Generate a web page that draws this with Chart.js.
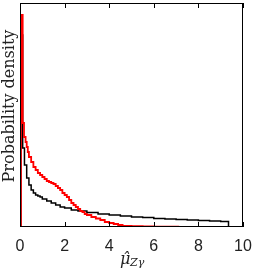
<!DOCTYPE html>
<html>
<head>
<meta charset="utf-8">
<script src="https://cdn.jsdelivr.net/npm/chart.js@4/dist/chart.umd.min.js"></script>
<style>
  html, body { margin: 0; padding: 0; background: #fff; }
  #wrap { width: 256px; height: 268px; }
</style>
</head>
<body>
<div id="wrap"><canvas id="chart" width="256" height="268"></canvas></div>
<script>
// histogram left edges and heights (arbitrary density units)
const blackEdges = [0.04, 0.12, 0.2, 0.3, 0.4, 0.5, 0.6, 0.7, 0.8, 0.9, 1.0, 1.2, 1.4, 1.6, 1.8, 2.0, 2.3, 2.6, 3.0, 3.5, 4.0, 4.5, 5.0, 5.5, 6.0, 6.5, 7.0, 7.5, 8.0, 8.5, 9.0];
const blackHeights = [192, 79, 62, 49, 42, 37, 34, 32, 31, 30, 28, 26, 24, 22, 20, 19, 17, 16, 14.5, 13, 12, 11, 10, 9.5, 8.5, 8, 7.5, 7, 6.5, 6, 5.5];
const blackEnd = 9.35;

const redEdges = [0.04, 0.12, 0.18, 0.25, 0.3, 0.35, 0.4, 0.5, 0.6, 0.7, 0.8, 0.9, 1.0, 1.1, 1.2, 1.3, 1.4, 1.5, 1.6, 1.7, 1.8, 1.9, 2.0, 2.1, 2.2, 2.3, 2.4, 2.5, 2.6, 2.7, 2.8, 2.9, 3.0, 3.2, 3.4, 3.6, 3.8, 4.0, 4.2, 4.4, 4.6, 5.0, 5.5, 6.0, 6.5];
const redHeights = [212, 104, 90, 85, 80, 75, 70, 65, 60, 57, 54, 52, 50, 48, 46, 45, 44, 43, 41, 39, 37, 34, 32, 30, 27, 24, 22, 20, 18, 16, 15, 13, 12, 10, 8.5, 7, 5, 4, 3, 2, 1.2, 0.8, 0.5, 0.4, 0.3];
const redEnd = 7.1;

const xTicks = [0, 2, 4, 6, 8, 10];

function histPoints(edges, heights, end) {
    let pts = [{ x: edges[0], y: 0 }];
    edges.forEach((e, i) => pts.push({ x: e, y: heights[i] }));
    pts.push({ x: end, y: heights[heights.length - 1] });
    pts.push({ x: end, y: 0 });
    return pts;
}

// frame, inward ticks and axis titles
const decor = {
    id: 'decor',
    afterDraw(chart) {
        const c = chart.ctx, a = chart.chartArea, xs = chart.scales.x;
        c.save();
        c.strokeStyle = '#000';
        c.lineWidth = 1;
        c.strokeRect(a.left + 0.5, a.top + 0.5, a.right - a.left - 1, a.bottom - a.top - 1);
        xTicks.forEach(t => {
            const px = Math.round(xs.getPixelForValue(t)) + 0.5;
            c.beginPath();
            c.moveTo(px, a.bottom); c.lineTo(px, a.bottom - 5);
            c.moveTo(px, a.top); c.lineTo(px, a.top + 5);
            c.stroke();
        });
        c.fillStyle = '#222';
        // y title
        c.save();
        c.translate(14, 106);
        c.rotate(-Math.PI / 2);
        c.font = '16px "DejaVu Serif"';
        c.textAlign = 'center';
        c.textBaseline = 'alphabetic';
        c.fillText('Probability density', 0, 0);
        c.restore();
        // x title: mu hat with subscript Z gamma
        c.font = 'italic 16px "DejaVu Serif"';
        c.textAlign = 'left';
        c.textBaseline = 'alphabetic';
        c.fillText('\u03bc\u0302', 120, 264);
        c.font = 'italic 11px "DejaVu Serif"';
        c.fillText('Z\u03b3', 130, 266);
        c.restore();
    }
};

const ctx = document.getElementById('chart').getContext('2d');
const chart = new Chart(ctx, {
    type: 'line',
    data: {
        datasets: [{
            data: histPoints(blackEdges, blackHeights, blackEnd),
            borderColor: '#000',
            borderWidth: 1.5,
            stepped: 'before',
            pointRadius: 0,
            fill: false,
            order: 1
        }, {
            data: histPoints(redEdges, redHeights, redEnd),
            borderColor: '#ff0000',
            borderWidth: 1.8,
            stepped: 'before',
            pointRadius: 0,
            fill: false,
            order: 0
        }]
    },
    options: {
        responsive: false,
        animation: false,
        events: [],
        layout: { padding: { top: 3, right: 13, left: 0, bottom: 0 } },
        plugins: { legend: { display: false }, tooltip: { enabled: false } },
        scales: {
            x: {
                type: 'linear',
                min: 0, max: 10,
                afterBuildTicks: s => { s.ticks = xTicks.map(v => ({ value: v })); },
                afterFit: s => { s.height = 41; },
                grid: { display: false },
                border: { display: false },
                ticks: { padding: 2, color: '#222', font: { family: 'Liberation Sans', size: 16 } }
            },
            y: {
                min: 0, max: 224,
                afterFit: s => { s.width = 20; },
                grid: { display: false },
                border: { display: false },
                ticks: { display: false }
            }
        }
    },
    plugins: [decor]
});
</script>
</body>
</html>
